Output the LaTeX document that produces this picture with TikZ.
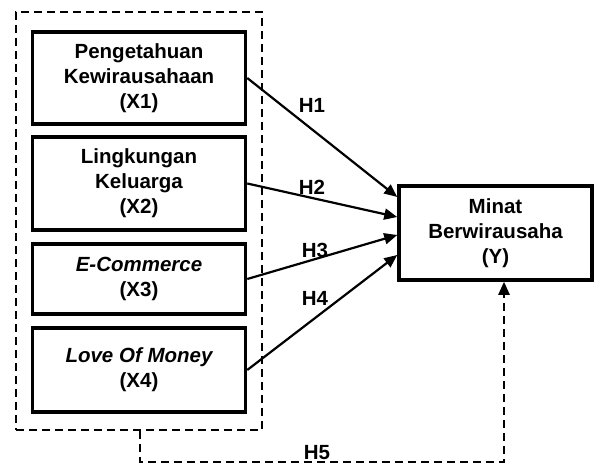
\documentclass[tikz,border=0pt]{standalone}
\usepackage{fontspec}
\setmainfont{Liberation Sans}
\usetikzlibrary{arrows.meta}
\begin{document}
\begin{tikzpicture}[x=1pt,y=-1pt,
  varbox/.style={draw,line width=3.5pt,rectangle,minimum width=213pt,align=center,inner sep=0pt,font=\fontsize{20.5}{25}\selectfont\bfseries},
  grpbox/.style={draw,line width=2.3pt,dash pattern=on 8pt off 5pt,rectangle,minimum width=246pt,minimum height=418pt,inner sep=0pt},
  conn/.style={line width=2.2pt,-{Triangle[length=13pt,width=11pt]}},
  dconn/.style={line width=2.3pt,dash pattern=on 8pt off 5pt,-{Triangle[length=13pt,width=11pt]}},
  hlab/.style={font=\fontsize{20.5}{25}\selectfont\bfseries,inner sep=0pt}]
\useasboundingbox (0,0) rectangle (601,465);
\node[grpbox] (grp) at (139,221) {};
\node[varbox,minimum height=92pt] (x1) at (139,78) {Pengetahuan\\Kewirausahaan\\(X1)};
\node[varbox,minimum height=93pt] (x2) at (139,183.5) {Lingkungan\\Keluarga\\(X2)};
\node[varbox,minimum height=70pt] (x3) at (139,279) {\itshape E-Commerce\\(X3)};
\node[varbox,minimum height=84pt] (x4) at (139,370) {\itshape Love Of Money\\(X4)};
\node[varbox,minimum width=193pt,minimum height=94pt] (y) at (495.5,233) {Minat\\Berwirausaha\\(Y)};
\draw[conn] (x1.east) -- ([yshift=36pt]y.west);
\draw[conn] (x2.east) -- ([yshift=16pt]y.west);
\draw[conn] (x3.east) -- ([yshift=-2pt]y.west);
\draw[conn] (x4.east) -- ([yshift=-22pt]y.west);
\coordinate (c1) at (140,462);
\coordinate (c2) at (504,462);
\draw[dconn] ([xshift=1pt]grp.south) -- (c1) -- (c2) -- ([xshift=8.5pt]y.south);
\node[hlab] (h1) at (312,105) {H1};
\node[hlab] (h2) at (312,187) {H2};
\node[hlab] (h3) at (315,250) {H3};
\node[hlab] (h4) at (315,298) {H4};
\node[hlab] (h5) at (317,453) {H5};
\end{tikzpicture}
\end{document}
